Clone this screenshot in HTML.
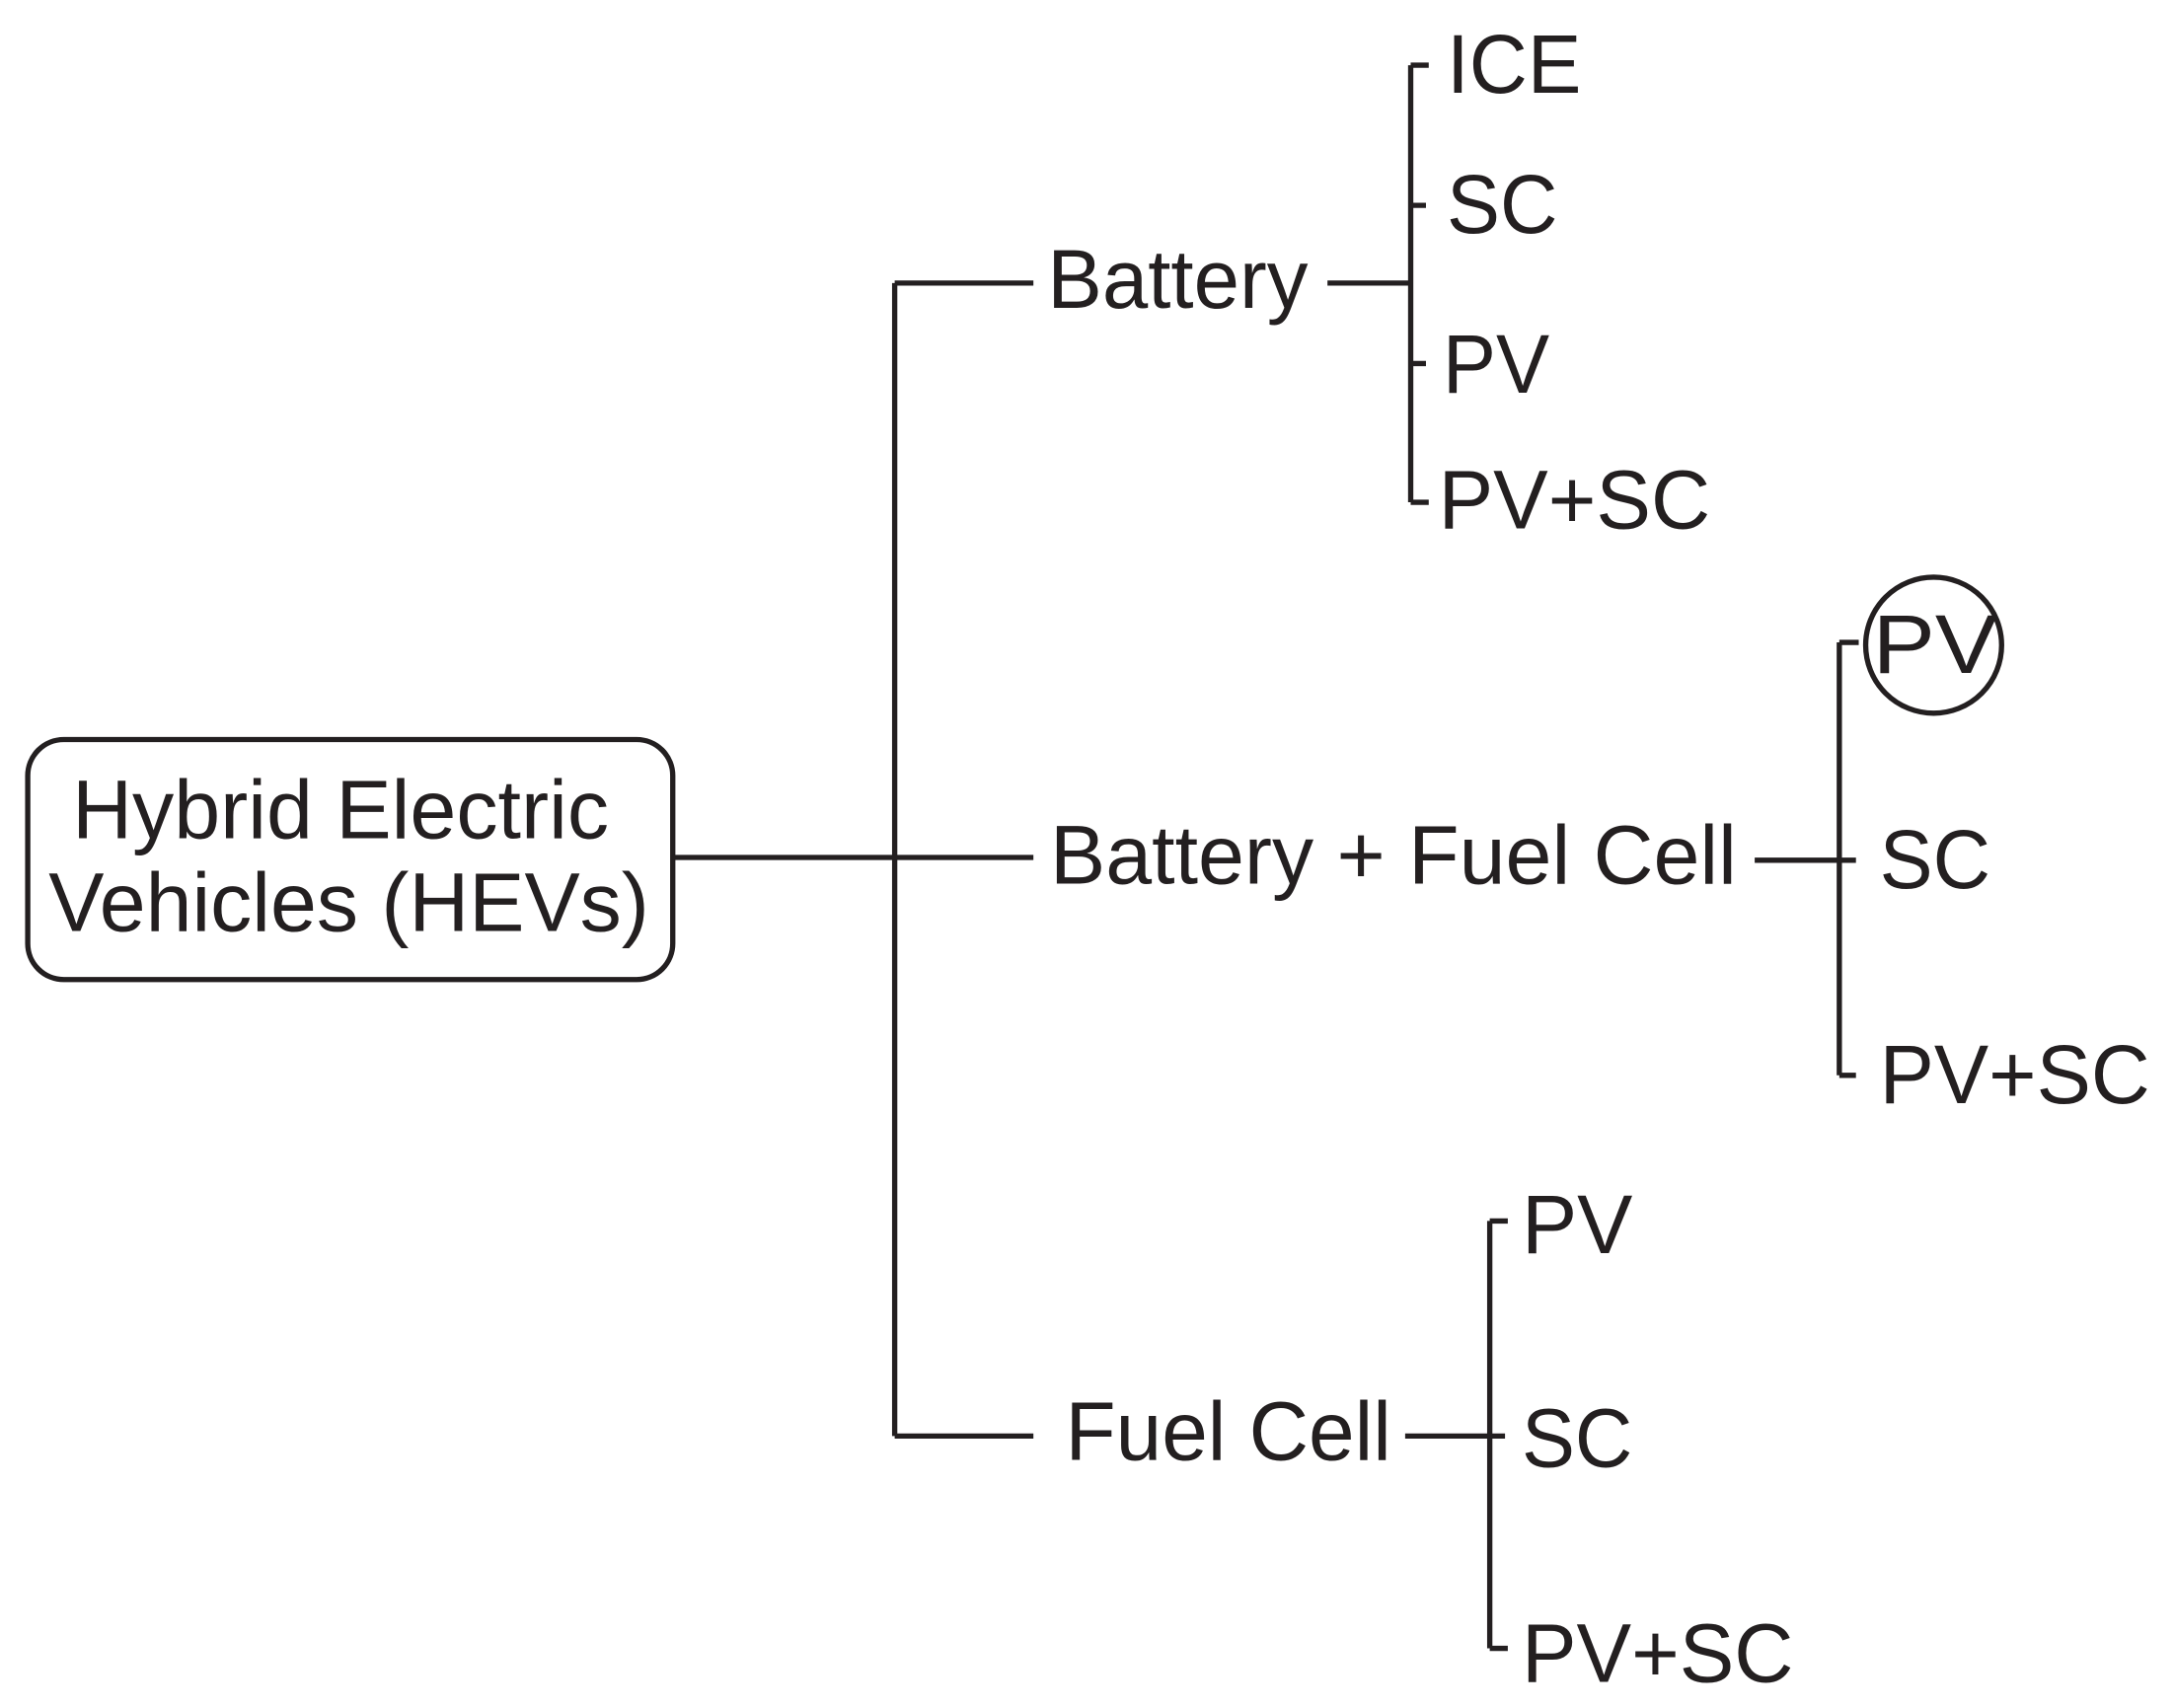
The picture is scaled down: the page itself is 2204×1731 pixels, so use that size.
<!DOCTYPE html>
<html><head><meta charset="utf-8"><style>
html,body{margin:0;padding:0;background:#fff;}
svg{display:block;}
text{font-family:"Liberation Sans",Arial,sans-serif;fill:#231f20;font-size:60px;}
</style></head><body>
<svg width="2204" height="1731" viewBox="0 0 1568 1231" preserveAspectRatio="none" xmlns="http://www.w3.org/2000/svg">
<g fill="none" stroke="#231f20" stroke-width="3.8">
<rect x="20" y="533" width="465" height="173" rx="26"/>
<path d="M485 618H745M645 204V1035M645 204H745M645 1035H745"/>
<path d="M957 204H1017M1017 47V362M1017 47H1030M1017 148H1028M1017 262H1028M1017 362H1030"/>
<path d="M1265 620H1338M1326 463V775M1326 463H1340M1326 775H1338"/>
<circle cx="1394" cy="465" r="49"/>
<path d="M1013 1035H1085M1074 880V1188M1074 880H1087M1074 1188H1087"/>
</g>
<text x="52" y="604" textLength="387" lengthAdjust="spacingAndGlyphs">Hybrid Electric</text>
<text x="35" y="671" textLength="433" lengthAdjust="spacingAndGlyphs">Vehicles (HEVs)</text>
<text x="755" y="222" textLength="188" lengthAdjust="spacingAndGlyphs">Battery</text>
<text x="1043" y="67" textLength="97" lengthAdjust="spacingAndGlyphs">ICE</text>
<text x="1043" y="168" textLength="80" lengthAdjust="spacingAndGlyphs">SC</text>
<text x="1040" y="283" textLength="77" lengthAdjust="spacingAndGlyphs">PV</text>
<text x="1037" y="381" textLength="196" lengthAdjust="spacingAndGlyphs">PV+SC</text>
<text x="757" y="637" textLength="495" lengthAdjust="spacingAndGlyphs">Battery + Fuel Cell</text>
<text x="1350" y="485" textLength="90" lengthAdjust="spacingAndGlyphs">PV</text>
<text x="1355" y="640" textLength="80" lengthAdjust="spacingAndGlyphs">SC</text>
<text x="1355" y="795" textLength="195" lengthAdjust="spacingAndGlyphs">PV+SC</text>
<text x="768" y="1052" textLength="235" lengthAdjust="spacingAndGlyphs">Fuel Cell</text>
<text x="1097" y="903" textLength="80" lengthAdjust="spacingAndGlyphs">PV</text>
<text x="1097" y="1057" textLength="80" lengthAdjust="spacingAndGlyphs">SC</text>
<text x="1097" y="1212" textLength="196" lengthAdjust="spacingAndGlyphs">PV+SC</text>
</svg>
</body></html>
